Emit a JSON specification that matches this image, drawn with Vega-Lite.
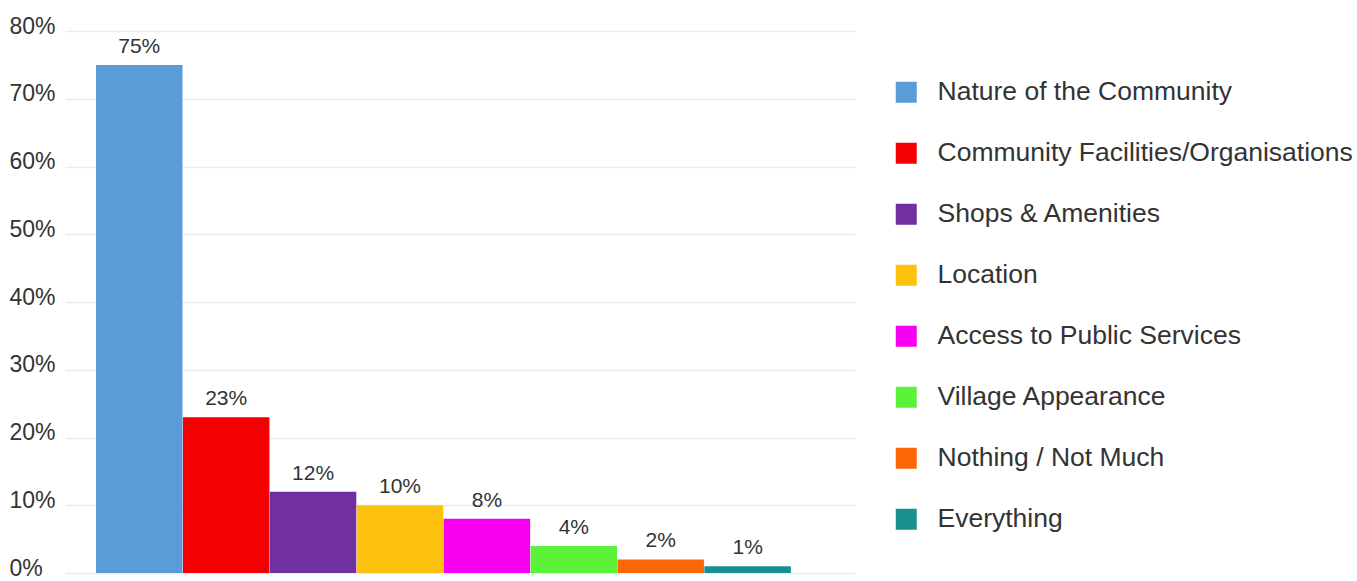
{
  "$schema": "https://vega.github.io/schema/vega-lite/v6.json",
  "autosize": {"type": "none"},
  "padding": {"left": 65, "top": 31, "right": 502, "bottom": 8},
  "width": 790,
  "height": 542,
  "background": "white",
  "data": {
    "values": [
      {"category": "Nature of the Community", "value": 0.75},
      {"category": "Community Facilities/Organisations", "value": 0.23},
      {"category": "Shops & Amenities", "value": 0.12},
      {"category": "Location", "value": 0.10},
      {"category": "Access to Public Services", "value": 0.08},
      {"category": "Village Appearance", "value": 0.04},
      {"category": "Nothing / Not Much", "value": 0.02},
      {"category": "Everything", "value": 0.01}
    ]
  },
  "config": {
    "view": {"stroke": null},
    "font": "Liberation Sans"
  },
  "encoding": {
    "x": {
      "field": "category",
      "type": "nominal",
      "sort": null,
      "axis": null,
      "scale": {"paddingInner": 0.005, "paddingOuter": 0.5475, "align": 0.326}
    },
    "y": {
      "field": "value",
      "type": "quantitative",
      "scale": {"domain": [0, 0.8], "nice": false},
      "axis": {
        "title": null,
        "format": ".0%",
        "values": [0, 0.1, 0.2, 0.3, 0.4, 0.5, 0.6, 0.7, 0.8],
        "domain": false,
        "ticks": false,
        "tickSize": 0,
        "labelAlign": "left",
        "labelPadding": 56,
        "labelOffset": -5,
        "labelFontSize": 23,
        "labelColor": "#333333",
        "labelFont": "Liberation Sans",
        "gridColor": "#ececec",
        "gridWidth": 1.5
      }
    }
  },
  "layer": [
    {
      "mark": {"type": "bar"},
      "encoding": {
        "color": {
          "field": "category",
          "type": "nominal",
          "scale": {
            "domain": ["Nature of the Community", "Community Facilities/Organisations", "Shops & Amenities", "Location", "Access to Public Services", "Village Appearance", "Nothing / Not Much", "Everything"],
            "range": ["#5a9bd8", "#f40000", "#7030a0", "#fdc20f", "#f700f0", "#5cf23a", "#fb6607", "#18908f"]
          },
          "legend": {
            "title": null,
            "orient": "none",
            "legendX": 828,
            "legendY": 48,
            "padding": 0,
            "symbolType": "square",
            "symbolSize": 441,
            "symbolStrokeWidth": 0,
            "symbolOpacity": 1,
            "labelFontSize": 26.5,
            "labelFont": "Liberation Sans",
            "labelColor": "#333333",
            "labelOffset": 18,
            "labelLimit": 500,
            "rowPadding": 34
          }
        }
      }
    },
    {
      "mark": {"type": "text", "baseline": "alphabetic", "dy": -12, "fontSize": 21, "color": "#333333", "font": "Liberation Sans"},
      "encoding": {
        "text": {"field": "value", "type": "quantitative", "format": ".0%"}
      }
    }
  ]
}
